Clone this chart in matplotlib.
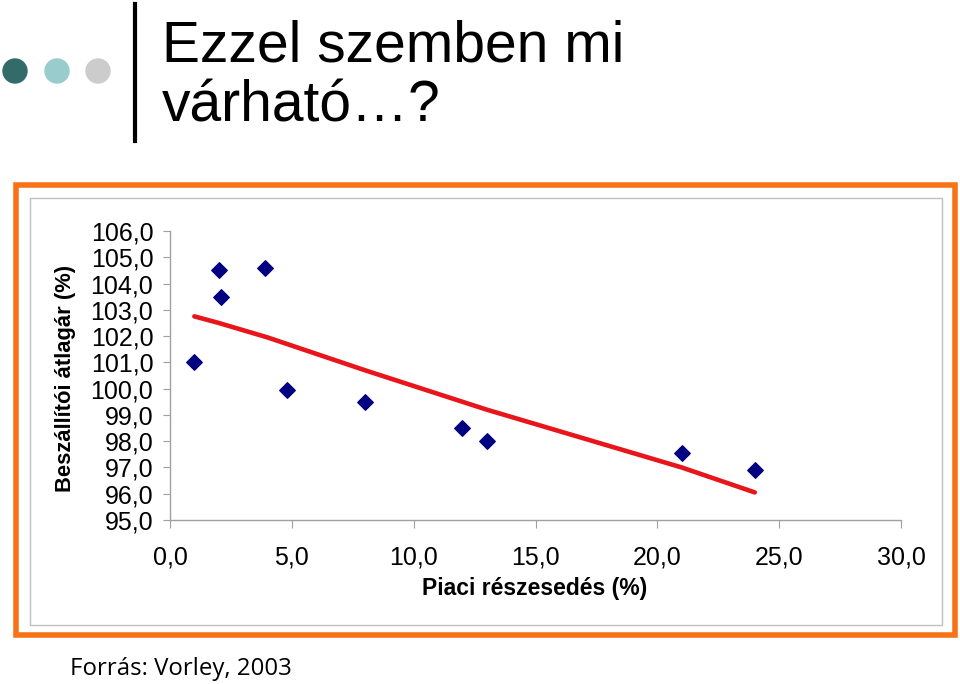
import matplotlib
matplotlib.use('Agg')
import matplotlib.pyplot as plt
from matplotlib.patches import Rectangle, Circle
from matplotlib.ticker import FuncFormatter

# market share (%) vs. average supplier price (%)
share = [1.0, 2.0, 2.1, 3.9, 4.8, 8.0, 12.0, 13.0, 21.0, 24.0]
price = [101.0, 104.5, 103.5, 104.6, 99.95, 99.5, 98.5, 98.0, 97.55, 96.9]

# trend line values
trend_x = [1.0, 2.0, 4.0, 4.8, 8.0, 12.0, 13.0, 21.0, 24.0]
trend_y = [102.75, 102.5, 101.95, 101.7, 100.7, 99.5, 99.2, 97.0, 96.05]

x_ticks = [0, 5, 10, 15, 20, 25, 30]
y_ticks = [95, 96, 97, 98, 99, 100, 101, 102, 103, 104, 105, 106]

plt.rcParams['font.family'] = ['Liberation Sans', 'DejaVu Sans']

fig = plt.figure(figsize=(9.6, 6.84), dpi=100)

# slide background in pixel coords
bg = fig.add_axes([0, 0, 1, 1])
bg.set_xlim(0, 960)
bg.set_ylim(684, 0)
bg.axis('off')

bg.add_patch(Circle((15, 71), 12, color='#336b6b'))
bg.add_patch(Circle((57, 71), 12, color='#99cccc'))
bg.add_patch(Circle((98, 71), 12, color='#cccccc'))
bg.plot([135, 135], [4, 141], color='black', lw=3)

bg.text(162, 46, 'Ezzel szemben mi', fontsize=41, va='center', ha='left')
bg.text(162, 107, 'várható\u2026?', fontsize=41, va='center', ha='left')

bg.add_patch(Rectangle((16, 185), 939, 450, fill=False, ec='#f87217', lw=4))
bg.add_patch(Rectangle((30, 198), 912, 427, fill=False, ec='#c0c0c0', lw=1))

bg.text(70, 669, 'Forrás: Vorley, 2003', fontsize=17.3, va='center', ha='left',
        family=['Open Sans', 'DejaVu Sans'])

bg.text(65, 378, 'Beszállítói átlagár (%)', fontsize=15.8, fontweight='bold',
        rotation=90, va='center', ha='center')
bg.text(535, 588, 'Piaci részesedés (%)', fontsize=16.5, fontweight='bold',
        va='center', ha='center')

# the chart itself
ax = fig.add_axes([170 / 960, 1 - 520 / 684, (901 - 170) / 960, (520 - 231) / 684])
ax.patch.set_alpha(0)
ax.plot(trend_x, trend_y, color='#e8161b', lw=3.3, solid_capstyle='round', zorder=2)
ax.scatter(share, price, marker='D', s=62, color='#000080', zorder=3)

ax.set_xlim(0, 30)
ax.set_ylim(95, 106)
ax.set_xticks(x_ticks)
ax.set_yticks(y_ticks)
fmt = FuncFormatter(lambda v, p: ('%.1f' % v).replace('.', ','))
ax.xaxis.set_major_formatter(fmt)
ax.yaxis.set_major_formatter(fmt)

for s in ['top', 'right']:
    ax.spines[s].set_visible(False)
for s in ['left', 'bottom']:
    ax.spines[s].set_color('#a0a0a0')
    ax.spines[s].set_linewidth(1)

ax.tick_params(axis='y', length=5, color='#a0a0a0', labelsize=18, pad=7)
ax.tick_params(axis='x', length=6, color='#a0a0a0', labelsize=18, pad=12)

fig.savefig('out.png', dpi=100)
